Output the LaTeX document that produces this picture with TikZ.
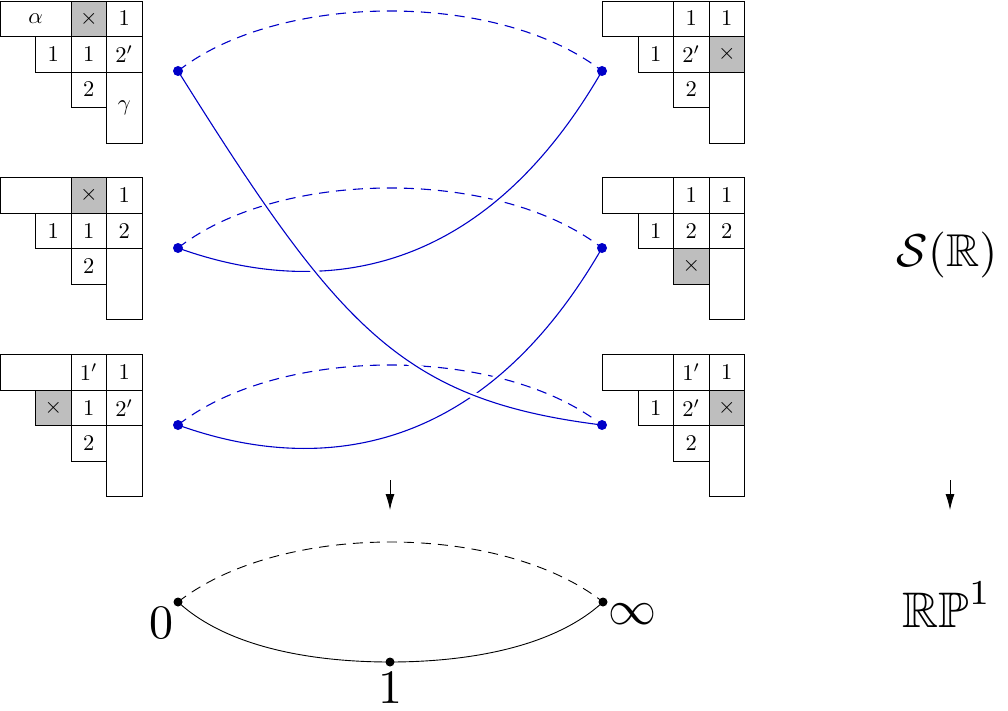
\documentclass[tikz,border=0pt]{standalone}
\usepackage{amsmath,amssymb}
\usepackage{graphicx}
\usetikzlibrary{arrows.meta}
\definecolor{dotblue}{RGB}{0,0,200}
\definecolor{cellgray}{RGB}{190,190,190}
\newcommand{\tabframe}{%
  \draw[cellline] (0,0) rectangle (2,1) (2,0) rectangle (3,1) (3,0) rectangle (4,1)
    (1,1) rectangle (2,2) (2,1) rectangle (3,2) (3,1) rectangle (4,2)
    (2,2) rectangle (3,3) (3,2) rectangle (4,4);}
\newcommand{\cv}[1]{\scalebox{2.25}{$#1$}}
\newcommand{\bigv}[1]{\scalebox{4.8}{$#1$}}
\begin{document}
\begin{tikzpicture}[x=1pt,y=-1pt,
  cellline/.style={draw=black, line width=0.9pt},
  cell/.style={inner sep=0pt},
  graycell/.style={fill=cellgray},
  bdot/.style={circle, fill=dotblue, inner sep=0pt, minimum size=10pt},
  kdot/.style={circle, fill=black, inner sep=0pt, minimum size=9pt},
  bdash/.style={draw=dotblue, line width=1.1pt, dash pattern=on 10pt off 7pt},
  bsolid/.style={draw=dotblue, line width=1.1pt, preaction={draw=white, line width=7pt}},
  kdash/.style={draw=black, line width=0.9pt, dash pattern=on 10pt off 7pt},
  ksolid/.style={draw=black, line width=0.9pt},
  maparrow/.style={draw=black, line width=0.9pt, -{Latex[length=16pt,width=9pt]}},
  biglabel/.style={inner sep=0pt},
]
\useasboundingbox (0,0) rectangle (1008,711);

% ---------- left tableaux ----------
\begin{scope}[shift={(0,1)}, x=35.5pt, y=-35.5pt]
  \fill[graycell] (2,0) rectangle (3,1);
  \tabframe
  \node[cell] (L1a) at (1,0.5) {\cv{\alpha}};
  \node[cell] (L1b) at (2.5,0.5) {\cv{\times}};
  \node[cell] (L1c) at (3.5,0.5) {\cv{1}};
  \node[cell] (L1d) at (1.5,1.5) {\cv{1}};
  \node[cell] (L1e) at (2.5,1.5) {\cv{1}};
  \node[cell] (L1f) at (3.5,1.5) {\cv{2'}};
  \node[cell] (L1g) at (2.5,2.5) {\cv{2}};
  \node[cell] (L1h) at (3.5,3) {\cv{\gamma}};
\end{scope}
\begin{scope}[shift={(0,177.5)}, x=35.5pt, y=-35.5pt]
  \fill[graycell] (2,0) rectangle (3,1);
  \tabframe
  \node[cell] (L2b) at (2.5,0.5) {\cv{\times}};
  \node[cell] (L2c) at (3.5,0.5) {\cv{1}};
  \node[cell] (L2d) at (1.5,1.5) {\cv{1}};
  \node[cell] (L2e) at (2.5,1.5) {\cv{1}};
  \node[cell] (L2f) at (3.5,1.5) {\cv{2}};
  \node[cell] (L2g) at (2.5,2.5) {\cv{2}};
\end{scope}
\begin{scope}[shift={(0,354.5)}, x=35.5pt, y=-35.5pt]
  \fill[graycell] (1,1) rectangle (2,2);
  \tabframe
  \node[cell] (L3b) at (2.5,0.5) {\cv{1'}};
  \node[cell] (L3c) at (3.5,0.5) {\cv{1}};
  \node[cell] (L3d) at (1.5,1.5) {\cv{\times}};
  \node[cell] (L3e) at (2.5,1.5) {\cv{1}};
  \node[cell] (L3f) at (3.5,1.5) {\cv{2'}};
  \node[cell] (L3g) at (2.5,2.5) {\cv{2}};
\end{scope}

% ---------- right tableaux ----------
\begin{scope}[shift={(602.5,1)}, x=35.5pt, y=-35.5pt]
  \fill[graycell] (3,1) rectangle (4,2);
  \tabframe
  \node[cell] (R1b) at (2.5,0.5) {\cv{1}};
  \node[cell] (R1c) at (3.5,0.5) {\cv{1}};
  \node[cell] (R1d) at (1.5,1.5) {\cv{1}};
  \node[cell] (R1e) at (2.5,1.5) {\cv{2'}};
  \node[cell] (R1f) at (3.5,1.5) {\cv{\times}};
  \node[cell] (R1g) at (2.5,2.5) {\cv{2}};
\end{scope}
\begin{scope}[shift={(602.5,177.5)}, x=35.5pt, y=-35.5pt]
  \fill[graycell] (2,2) rectangle (3,3);
  \tabframe
  \node[cell] (R2b) at (2.5,0.5) {\cv{1}};
  \node[cell] (R2c) at (3.5,0.5) {\cv{1}};
  \node[cell] (R2d) at (1.5,1.5) {\cv{1}};
  \node[cell] (R2e) at (2.5,1.5) {\cv{2}};
  \node[cell] (R2f) at (3.5,1.5) {\cv{2}};
  \node[cell] (R2g) at (2.5,2.5) {\cv{\times}};
\end{scope}
\begin{scope}[shift={(602.5,354.5)}, x=35.5pt, y=-35.5pt]
  \fill[graycell] (3,1) rectangle (4,2);
  \tabframe
  \node[cell] (R3b) at (2.5,0.5) {\cv{1'}};
  \node[cell] (R3c) at (3.5,0.5) {\cv{1}};
  \node[cell] (R3d) at (1.5,1.5) {\cv{1}};
  \node[cell] (R3e) at (2.5,1.5) {\cv{2'}};
  \node[cell] (R3f) at (3.5,1.5) {\cv{\times}};
  \node[cell] (R3g) at (2.5,2.5) {\cv{2}};
\end{scope}

% ---------- points ----------
\coordinate (l1) at (178,71);
\coordinate (l2) at (178,248);
\coordinate (l3) at (178,425);
\coordinate (r1) at (602,71);
\coordinate (r2) at (602,248);
\coordinate (r3) at (602,425);

% dashed arcs
\draw[bdash] (l1) .. controls (280,-9) and (500,-9) .. (r1);
\draw[bdash] (l2) .. controls (280,168) and (500,168) .. (r2);
\draw[bdash] (l3) .. controls (280,345) and (500,345) .. (r3);

% solid curves
\draw[bsolid] (l2) .. controls (286,287) and (467,305) .. (r1);
\draw[bsolid] (l3) .. controls (286,464) and (467,482) .. (r2);
\draw[bsolid] (l1) .. controls (339,328) and (401,400) .. (r3);

\node[bdot] (L1p) at (l1) {};
\node[bdot] (L2p) at (l2) {};
\node[bdot] (L3p) at (l3) {};
\node[bdot] (R1p) at (r1) {};
\node[bdot] (R2p) at (r2) {};
\node[bdot] (R3p) at (r3) {};

% ---------- arrows ----------
\coordinate (a1s) at (390,480);
\coordinate (a1e) at (390,510);
\coordinate (a2s) at (950,480);
\coordinate (a2e) at (950,510);
\draw[maparrow] (a1s) -- (a1e);
\draw[maparrow] (a2s) -- (a2e);

% ---------- RP^1 ----------
\coordinate (z0) at (178,602);
\coordinate (zi) at (603,602);
\coordinate (z1) at (390,662);
\draw[kdash] (z0) .. controls (280,522) and (501,522) .. (zi);
\draw[ksolid] (z0) .. controls (230,650) and (320,662) .. (z1);
\draw[ksolid] (z1) .. controls (460,662) and (551,650) .. (zi);
\node[kdot] (Z0) at (z0) {};
\node[kdot] (Zi) at (zi) {};
\node[kdot] (Z1) at (z1) {};
\node[biglabel] (t0) at (161,623) {\bigv{0}};
\node[biglabel] (ti) at (632,614) {\bigv{\infty}};
\node[biglabel] (t1) at (390,688) {\bigv{1}};

\node[inner sep=0pt] (SR) at (947,255) {\scalebox{4.6}{$\mathcal{S}(\mathbb{R})$}};
\node[inner sep=0pt, anchor=base] (RP) at (947,627) {\scalebox{5.0}{$\mathbb{RP}^1$}};
\end{tikzpicture}
\end{document}
